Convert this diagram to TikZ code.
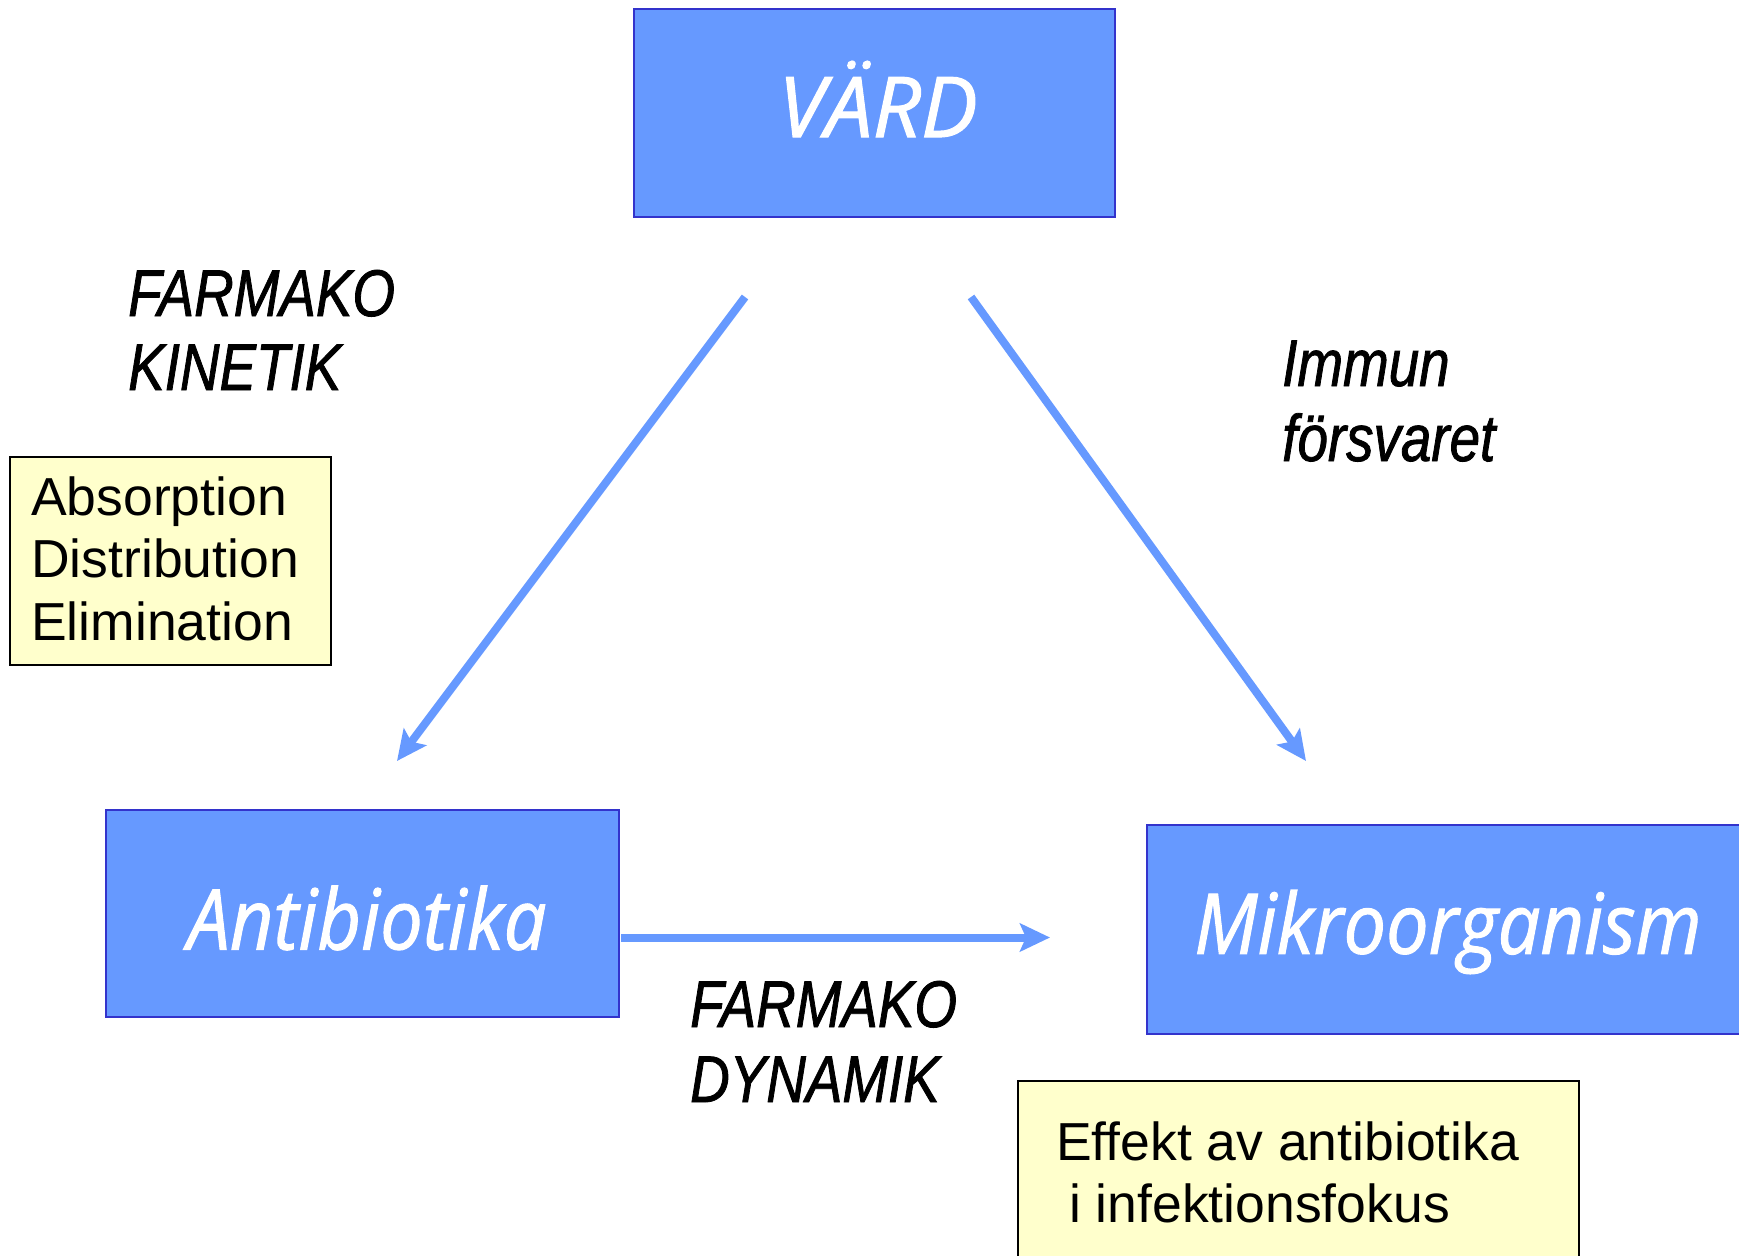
\documentclass[tikz,border=0pt]{standalone}
\usepackage{fontspec}
\setmainfont{Liberation Sans}
\newfontfamily\boxfont[FakeStretch=0.9,FakeBold=1.2]{Open Sans}
\newfontfamily\labfont[FakeStretch=0.83,FakeBold=1.2]{Liberation Sans}
\usetikzlibrary{arrows.meta}
\definecolor{boxblue}{HTML}{6699FF}
\definecolor{boxedge}{HTML}{3333CC}
\definecolor{noteyellow}{HTML}{FFFFCC}
\begin{document}
\begin{tikzpicture}[x=1pt,y=-1pt,
  bluebox/.style={draw=boxedge,line width=2pt,fill=boxblue},
  notebox/.style={draw=black,line width=1.6pt,fill=noteyellow},
  boxtext/.style={text=white,font=\boxfont\itshape\fontsize{84}{90}\selectfont,inner sep=0pt},
  labtext/.style={anchor=base west,inner sep=0pt,font=\labfont\itshape\fontsize{66}{70}\selectfont},
  notetext/.style={anchor=base west,inner sep=0pt,font=\fontsize{53.5}{60}\selectfont},
  conn/.style={draw=boxblue,line width=8pt,-{Stealth[length=30pt,width=28pt,inset=6pt]}}
]
\useasboundingbox (0,0) rectangle (1739,1255);
\begin{scope}
\clip (0,0) rectangle (1739,1255);
% boxes
\draw[bluebox] (634,9) rectangle (1115,217);
\node[boxtext] (vard) at (878,99) {\scalebox{1.12}[1]{VÄRD}};
\draw[bluebox] (106,810) rectangle (619,1017);
\node[boxtext] (anti) at (367,918) {Antibiotika};
\draw[bluebox] (1147,825) rectangle (1745,1034);
\node[boxtext] (mikro) at (1448,932) {Mikroorganism};
% notes
\draw[notebox] (10,457) rectangle (331,665);
\node[notetext] (abs) at (31,515) {Absorption};
\node[notetext] (dist) at (31,577) {Distribution};
\node[notetext] (elim) at (31,640) {Elimination};
\draw[notebox] (1018,1081) rectangle (1579,1270);
\node[notetext] (eff1) at (1056,1160) {Effekt av antibiotika};
\node[notetext] (eff2) at (1069,1222) {i infektionsfokus};
\end{scope}
% labels
\node[labtext] (fk1) at (128,316) {FARMAKO};
\node[labtext] (fk2) at (128,390) {KINETIK};
\node[labtext] (im1) at (1282,386) {Immun};
\node[labtext] (im2) at (1282,461) {försvaret};
\node[labtext] (fd1) at (690,1027) {FARMAKO};
\node[labtext] (fd2) at (690,1102) {DYNAMIK};
% connectors
\coordinate (l1) at (745,297);
\coordinate (l2) at (397,761);
\coordinate (r1) at (971,297);
\coordinate (r2) at (1306,761);
\coordinate (h1) at (621,937.5);
\coordinate (h2) at (1050,937.5);
\draw[conn] (l1) -- (l2);
\draw[conn] (r1) -- (r2);
\draw[conn] (h1) -- (h2);
\end{tikzpicture}
\end{document}
